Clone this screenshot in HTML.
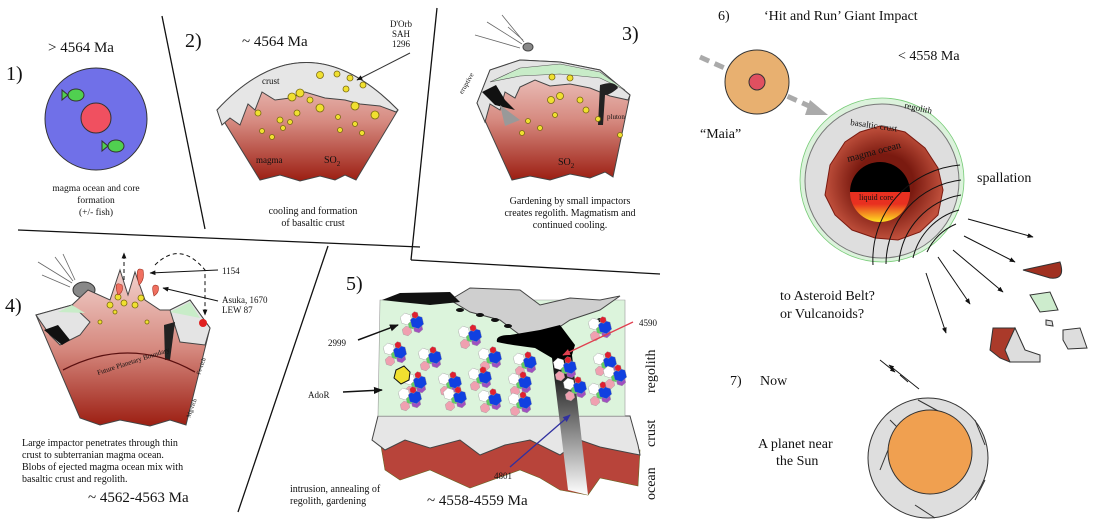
<!DOCTYPE html>
<html><head><meta charset="utf-8"><style>
html,body{margin:0;padding:0;background:#fff}
svg{display:block}
text{font-family:"Liberation Serif",serif;fill:#111}
</style></head><body>
<svg id="s" width="1096" height="531" viewBox="0 0 1096 531" xmlns="http://www.w3.org/2000/svg">
<defs>
<linearGradient id="mag" x1="0" y1="0" x2="0" y2="1"><stop offset="0" stop-color="#f2d2ce"/><stop offset="0.5" stop-color="#d68a80"/><stop offset="1" stop-color="#9c1e12"/></linearGradient>
<linearGradient id="dike" x1="0" y1="0" x2="0" y2="1"><stop offset="0.2" stop-color="#000"/><stop offset="1" stop-color="#fff"/></linearGradient>
<linearGradient id="core" x1="0" y1="0" x2="0" y2="1"><stop offset="0.4" stop-color="#e83020"/><stop offset="1" stop-color="#ffe020"/></linearGradient>
<radialGradient id="mo" cx="0.5" cy="0.5" r="0.5"><stop offset="0.5" stop-color="#7a1a10"/><stop offset="1" stop-color="#c0503c"/></radialGradient>
<marker id="ah" viewBox="0 0 10 10" refX="9" refY="5" markerWidth="6" markerHeight="6" orient="auto"><path d="M0,1 L10,5 L0,9z" fill="#111"/></marker>
<marker id="ahr" viewBox="0 0 10 10" refX="9" refY="5" markerWidth="6" markerHeight="6" orient="auto"><path d="M0,1 L10,5 L0,9z" fill="#e04050"/></marker>
<marker id="ahb" viewBox="0 0 10 10" refX="9" refY="5" markerWidth="6" markerHeight="6" orient="auto"><path d="M0,1 L10,5 L0,9z" fill="#3030a0"/></marker>
</defs>
<g stroke="#111" stroke-width="1.3" fill="none">
<line x1="162" y1="16" x2="205" y2="229"/>
<line x1="18" y1="230" x2="420" y2="247"/>
<line x1="437" y1="8" x2="411" y2="260"/>
<line x1="411" y1="260" x2="660" y2="274"/>
<line x1="328" y1="246" x2="238" y2="512"/>
</g>
<!-- Panel 1 -->
<text x="48" y="52" font-size="15">&gt; 4564 Ma</text>
<text x="6" y="80" font-size="20">1)</text>
<circle cx="96" cy="119" r="51" fill="#7070e8" stroke="#333"/>
<circle cx="96" cy="118" r="15" fill="#f05060" stroke="#333"/>
<ellipse cx="76" cy="95" rx="8" ry="6" fill="#50d050" stroke="#333"/><path d="M68,95 L62,90 L62,100z" fill="#50d050" stroke="#333"/>
<ellipse cx="116" cy="146" rx="8" ry="6" fill="#50d050" stroke="#333"/><path d="M108,146 L102,141 L102,151z" fill="#50d050" stroke="#333"/>
<text x="96" y="191" font-size="9.5" text-anchor="middle">magma ocean and core</text>
<text x="96" y="203" font-size="9.5" text-anchor="middle">formation</text>
<text x="96" y="215" font-size="9.5" text-anchor="middle">(+/- fish)</text>
<!-- Panel 2 -->
<text x="185" y="47" font-size="20">2)</text>
<text x="242" y="46" font-size="15">~ 4564 Ma</text>
<text x="401" y="27" font-size="9" text-anchor="middle">D'Orb</text>
<text x="401" y="37" font-size="9" text-anchor="middle">SAH</text>
<text x="401" y="47" font-size="9" text-anchor="middle">1296</text>
<path d="M217,110 Q305,15 398,110 L356,180 L345,175 L335,180 L320,176 L300,181 L280,175 L260,180 Z" fill="url(#mag)" stroke="#444"/>
<path d="M217,110 Q305,15 398,110 L396,112 L380,106 L360,104 L345,100 L325,98 L305,92 L290,98 L275,100 L262,92 L255,110 L248,104 L240,125 L230,118 L222,125 Z" fill="#e6e6e6" stroke="#444"/>
<text x="262" y="84" font-size="9">crust</text>
<text x="256" y="163" font-size="9" fill="#8a1a10">magma</text>
<text x="324" y="163" font-size="10" fill="#f0a020">SO<tspan font-size="7" dy="3">2</tspan></text>
<line x1="410" y1="53" x2="357" y2="80" stroke="#333" marker-end="url(#ah)"/>
<g fill="#f0e030" stroke="#7a6a10" stroke-width="0.8">
<circle cx="320" cy="75" r="3.5"/><circle cx="337" cy="74" r="3"/><circle cx="350" cy="78" r="3"/><circle cx="346" cy="89" r="3"/><circle cx="363" cy="85" r="3"/>
<circle cx="292" cy="97" r="4"/><circle cx="300" cy="93" r="4"/><circle cx="258" cy="113" r="3"/><circle cx="280" cy="120" r="3"/><circle cx="297" cy="113" r="3"/><circle cx="310" cy="100" r="3"/><circle cx="320" cy="108" r="4"/><circle cx="355" cy="106" r="4"/><circle cx="375" cy="115" r="4"/><circle cx="262" cy="131" r="2.5"/><circle cx="272" cy="137" r="2.5"/><circle cx="283" cy="128" r="2.5"/><circle cx="338" cy="117" r="2.5"/><circle cx="340" cy="130" r="2.5"/><circle cx="355" cy="124" r="2.5"/><circle cx="362" cy="133" r="2.5"/><circle cx="290" cy="122" r="2.5"/>
</g>
<text x="313" y="214" font-size="10" text-anchor="middle">cooling and formation</text>
<text x="313" y="226" font-size="10" text-anchor="middle">of basaltic crust</text>
<!-- Panel 3 -->
<text x="622" y="40" font-size="20">3)</text>
<g stroke="#666" stroke-width="0.8"><line x1="475" y1="35" x2="520" y2="48"/><line x1="487" y1="22" x2="522" y2="44"/><line x1="502" y1="15" x2="524" y2="42"/><line x1="508" y1="27" x2="523" y2="40"/></g>
<ellipse cx="528" cy="47" rx="5" ry="4" fill="#888" stroke="#444"/>
<path d="M477,103 L490,70 L520,60 L560,62 L600,70 L630,95 L613,177 L605,172 L590,178 L570,174 L550,180 L530,176 L512,180 Z" fill="url(#mag)" stroke="#444"/>
<path d="M477,103 L490,70 L520,60 L560,62 L600,70 L630,95 L628,100 L610,96 L590,88 L570,84 L550,86 L535,80 L520,87 L515,98 L505,92 L500,110 L490,104 L485,122 Z" fill="#e4e4e4" stroke="#444"/>
<path d="M490,82 L520,68 L560,64 L600,72 L625,90 L600,78 L560,74 L520,76 Z" fill="#c8ecc8" stroke="#555" stroke-width="0.6"/>
<path d="M482,92 L496,85 L505,100 L515,110 L495,105 Z" fill="#111"/>
<path d="M500,105 L520,120 L505,126 Z" fill="#999"/>
<path d="M600,85 Q615,80 618,88 Q610,95 605,95 L603,125 L598,125 Z" fill="#222"/>
<text x="607" y="119" font-size="7">pluton</text>
<text x="460" y="90" font-size="7" transform="rotate(-60 465 90)">eruptive</text>
<text x="558" y="165" font-size="10" fill="#f0a020">SO<tspan font-size="7" dy="3">2</tspan></text>
<g fill="#f0e030" stroke="#7a6a10" stroke-width="0.8"><circle cx="552" cy="77" r="3"/><circle cx="570" cy="78" r="3"/><circle cx="551" cy="100" r="3.5"/><circle cx="560" cy="96" r="3.5"/><circle cx="580" cy="100" r="3"/><circle cx="586" cy="110" r="3"/><circle cx="528" cy="121" r="2.5"/><circle cx="555" cy="115" r="2.5"/><circle cx="540" cy="128" r="2.5"/><circle cx="522" cy="133" r="2.5"/><circle cx="598" cy="119" r="2.5"/><circle cx="620" cy="135" r="2.5"/></g>
<text x="570" y="204" font-size="10" text-anchor="middle">Gardening by small impactors</text>
<text x="570" y="216" font-size="10" text-anchor="middle">creates regolith.  Magmatism and</text>
<text x="570" y="228" font-size="10" text-anchor="middle">continued cooling.</text>
<!-- Panel 4 -->
<text x="5" y="312" font-size="20">4)</text>
<g stroke="#666" stroke-width="0.8"><line x1="38" y1="262" x2="72" y2="283"/><line x1="42" y1="275" x2="70" y2="287"/><line x1="55" y1="257" x2="73" y2="281"/><line x1="63" y1="254" x2="75" y2="280"/></g>
<ellipse cx="84" cy="290" rx="11" ry="8" fill="#888" stroke="#333"/>
<path d="M36,315 L72,305 L88,290 L110,300 L120,270 L128,295 L135,272 L145,300 L160,310 L172,310 L190,300 L210,328 L186,425 L170,420 L150,426 L120,420 L100,425 L80,418 Z" fill="url(#mag)" stroke="#444"/>
<path d="M36,315 L72,305 L90,322 L80,335 L60,345 L50,335 Z" fill="#e4e4e4" stroke="#444"/>
<path d="M170,310 L190,300 L210,328 L205,345 L180,342 Z" fill="#e4e4e4" stroke="#444"/>
<path d="M58,312 L72,305 L85,313 Z" fill="#c8ecc8"/><path d="M170,312 L190,302 L200,318 Z" fill="#c8ecc8"/>
<path d="M44,330 L58,325 L70,340 L62,345 Z" fill="#111"/><path d="M164,325 L175,322 L170,360 L165,360 Z" fill="#222"/>
<circle cx="203" cy="323" r="4" fill="#e02020"/>
<path d="M63,370 Q130,335 195,372" fill="none" stroke="#5a1010" stroke-width="1.3"/>
<text x="98" y="375" font-size="7" fill="#f6dede" transform="rotate(-18 98 375)">Future Planetary Boundary</text>
<text x="200" y="375" font-size="6" transform="rotate(-70 200 375)">Fe-rich</text>
<text x="190" y="418" font-size="6" transform="rotate(-70 190 418)">Mg-rich</text>
<g fill="#f0e030" stroke="#7a6a10" stroke-width="0.8"><circle cx="118" cy="297" r="3"/><circle cx="124" cy="303" r="3"/><circle cx="110" cy="305" r="3"/><circle cx="135" cy="305" r="3"/><circle cx="141" cy="298" r="3"/><circle cx="115" cy="312" r="2"/><circle cx="147" cy="322" r="2"/><circle cx="100" cy="322" r="2"/></g>
<path d="M118,295 Q113,280 122,285 Q124,292 118,295z M139,285 Q134,265 143,270 Q145,280 139,285z M154,296 Q150,282 158,286 Q160,292 154,296z" fill="#f07060" stroke="#a03020" stroke-width="0.6"/>
<line x1="124" y1="280" x2="124" y2="253" stroke="#111" stroke-dasharray="4,3" marker-end="url(#ah)"/>
<path d="M155,265 Q180,240 205,270 L205,315" fill="none" stroke="#111" stroke-dasharray="4,3" marker-end="url(#ah)"/>
<line x1="218" y1="270" x2="150" y2="273" stroke="#111" marker-end="url(#ah)"/>
<line x1="218" y1="301" x2="163" y2="288" stroke="#111" marker-end="url(#ah)"/>
<text x="222" y="274" font-size="9">1154</text>
<text x="222" y="303" font-size="9">Asuka, 1670</text>
<text x="222" y="313" font-size="9">LEW 87</text>
<text x="22" y="446" font-size="10">Large impactor penetrates through thin</text>
<text x="22" y="458" font-size="10">crust to subterranian magma ocean.</text>
<text x="22" y="470" font-size="10">Blobs of ejected magma ocean mix with</text>
<text x="22" y="482" font-size="10">basaltic crust and regolith.</text>
<text x="88" y="502" font-size="15">~ 4562-4563 Ma</text>
<!-- Panel 5 -->
<text x="346" y="290" font-size="20">5)</text>
<path d="M380,440 L600,440 L640,450 L638,486 L600,478 L588,495 L560,490 L540,478 L520,470 L470,488 L430,470 L400,480 L385,470 Z" fill="#b8443a" stroke="#662" stroke-width="0.6"/>
<path d="M378,416 L630,416 L638,445 L640,455 L600,447 L580,440 L560,455 L530,440 L505,445 L480,455 L460,440 L430,448 L405,440 L385,450 L372,440 Z" fill="#e6e6e6" stroke="#444"/>
<path d="M380,300 L625,300 L625,416 L378,416 Z" fill="#dcf4dc" stroke="#999" stroke-width="0.6"/>
<path d="M450,300 L470,288 L520,290 L540,305 L570,298 L600,300 L620,296 L600,310 L570,320 L540,340 L520,335 L500,320 L470,312 Z" fill="#cfcfcf" stroke="#444"/>
<path d="M382,300 L400,293 L450,292 L460,302 L430,305 L400,302 Z" fill="#111"/>
<g fill="#111"><ellipse cx="460" cy="310" rx="4" ry="2"/><ellipse cx="480" cy="315" rx="4" ry="2"/><ellipse cx="495" cy="320" rx="4" ry="2"/><ellipse cx="508" cy="326" rx="4" ry="2"/><ellipse cx="600" cy="320" rx="3" ry="2"/></g>
<path d="M540,330 L560,325 L575,345 L572,355 L588,495 L568,490 L552,358 L535,348 Q510,345 497,342 Q495,335 510,335 Z" fill="url(#dike)"/>
<g id="cl"></g>
<polygon points="453,370 461,366 467,372 466,380 458,384 451,378" fill="#f0e030" stroke="#111" transform="translate(-57,0)"/>
<line x1="358" y1="340" x2="398" y2="325" stroke="#111" stroke-width="1.5" marker-end="url(#ah)"/>
<line x1="343" y1="392" x2="382" y2="390" stroke="#111" stroke-width="1.5" marker-end="url(#ah)"/>
<line x1="633" y1="322" x2="563" y2="355" stroke="#e04050" stroke-width="1.3" marker-end="url(#ahr)"/>
<line x1="510" y1="467" x2="570" y2="415" stroke="#3030a0" stroke-width="1.3" marker-end="url(#ahb)"/>
<text x="328" y="346" font-size="9">2999</text>
<text x="308" y="398" font-size="9">AdoR</text>
<text x="639" y="326" font-size="9">4590</text>
<text x="494" y="479" font-size="9">4801</text>
<text x="655" y="393" font-size="14" transform="rotate(-90 655 393)">regolith</text>
<text x="655" y="447" font-size="14" transform="rotate(-90 655 447)">crust</text>
<text x="655" y="500" font-size="14" transform="rotate(-90 655 500)">ocean</text>
<text x="290" y="492" font-size="10">intrusion, annealing of</text>
<text x="290" y="504" font-size="10">regolith, gardening</text>
<text x="427" y="505" font-size="15">~ 4558-4559 Ma</text>
<!-- Panel 6 -->
<text x="718" y="20" font-size="14">6)</text>
<text x="764" y="20" font-size="14">‘Hit and Run’ Giant Impact</text>
<text x="898" y="60" font-size="14">&lt; 4558 Ma</text>
<line x1="700" y1="57" x2="818" y2="110" stroke="#aaa" stroke-width="5" stroke-dasharray="10,6"/>
<path d="M810,100 L828,115 L805,115z" fill="#aaa"/>
<circle cx="757" cy="82" r="32" fill="#e8b070" stroke="#333"/>
<circle cx="757" cy="82" r="8" fill="#e05060" stroke="#333"/>
<text x="700" y="138" font-size="14">“Maia”</text>
<circle cx="882" cy="180" r="82" fill="#dcf2dc" stroke="#7c7" stroke-width="0.8"/>
<circle cx="882" cy="181" r="77" fill="#dedede" stroke="#777"/>
<path d="M880,126 L905,132 L925,148 L938,168 L943,190 L938,215 L920,232 L898,240 L875,238 L852,230 L835,215 L825,195 L830,165 L845,142 L860,132 Z" fill="url(#mo)" stroke="#7a1a10"/>
<path d="M850,192 A30,30 0 0 1 910,192 Z" fill="#000"/>
<path d="M850,192 A30,30 0 0 0 910,192 Z" fill="url(#core)"/>
<text x="859" y="200" font-size="8">liquid core</text>
<text x="848" y="162" font-size="10" transform="rotate(-15 848 162)">magma ocean</text>
<text x="850" y="125" font-size="9" transform="rotate(8 850 125)">basaltic crust</text>
<text x="904" y="108" font-size="9" transform="rotate(12 904 108)">regolith</text>
<g fill="none" stroke="#111" stroke-width="1"><path d="M873,265 A95,95 0 0 1 960,165"/><path d="M886,264 A85,85 0 0 1 961,180"/><path d="M899,262 A75,75 0 0 1 961,195"/><path d="M913,258 A65,65 0 0 1 959,210"/><path d="M927,252 A55,55 0 0 1 956,224"/></g>
<text x="977" y="182" font-size="14">spallation</text>
<g stroke="#111" stroke-width="1" marker-end="url(#ah)"><line x1="968" y1="219" x2="1033" y2="237"/><line x1="964" y1="236" x2="1015" y2="262"/><line x1="953" y1="250" x2="1003" y2="292"/><line x1="938" y1="257" x2="970" y2="304"/><line x1="926" y1="273" x2="946" y2="333"/></g>
<path d="M1023,270 L1060,262 Q1066,280 1050,278 Z" fill="#a03020" stroke="#333"/>
<path d="M1030,295 L1050,292 L1058,310 L1040,312 Z" fill="#cdeccd" stroke="#333"/>
<path d="M1046,320 L1052,321 L1053,326 L1046,325 Z" fill="#ddd" stroke="#333"/>
<path d="M1063,330 L1080,328 L1087,348 L1068,349 L1063,340 Z" fill="#ddd" stroke="#333"/>
<path d="M993,328 L1015,328 L1025,350 L1010,362 L1000,358 L990,350 Z" fill="#aa3a2a" stroke="#333"/>
<path d="M1015,328 L1025,350 L1040,355 L1040,362 L1010,362 L1005,350 Z" fill="#ddd" stroke="#333"/>
<text x="780" y="300" font-size="14">to Asteroid Belt?</text>
<text x="780" y="318" font-size="14">or Vulcanoids?</text>
<!-- Panel 7 -->
<text x="730" y="385" font-size="14">7)</text>
<text x="760" y="385" font-size="14">Now</text>
<g stroke="#111" stroke-width="0.9"><line x1="880" y1="360" x2="895" y2="372" marker-end="url(#ah)"/><line x1="919" y1="389" x2="889" y2="365" marker-end="url(#ah)"/><line x1="900" y1="375" x2="908" y2="382"/></g>
<circle cx="928" cy="458" r="60" fill="#dedede" stroke="#333"/>
<g stroke="#333" fill="none"><path d="M918,400 L940,412"/><path d="M975,420 L985,445"/><path d="M985,480 L975,500"/><path d="M935,518 L915,505"/><path d="M880,470 L888,450"/><path d="M890,420 L900,430"/></g>
<circle cx="930" cy="452" r="42" fill="#f0a050" stroke="#333"/>
<text x="758" y="448" font-size="14">A planet near</text>
<text x="776" y="465" font-size="14">the Sun</text>
</svg>
<script>
(function(){var g=document.getElementById('cl');var ns='http://www.w3.org/2000/svg';
var pts=[[412,325],[470,338],[395,355],[430,360],[490,360],[525,365],[600,330],[605,365],[415,385],[450,385],[480,380],[520,385],[565,370],[575,390],[410,400],[455,400],[490,402],[520,405],[600,395],[615,378]];
function hex(cx,cy,r,f){var p=[];for(var i=0;i<6;i++){var a=Math.PI/3*i+0.3;p.push((cx+r*Math.cos(a)).toFixed(1)+','+(cy+r*Math.sin(a)).toFixed(1));}var e=document.createElementNS(ns,'polygon');e.setAttribute('points',p.join(' '));e.setAttribute('fill',f);e.setAttribute('stroke','#999');e.setAttribute('stroke-width','0.4');g.appendChild(e);}
pts.forEach(function(q){var x=q[0],y=q[1];hex(x-6,y-6,6,'#fff');hex(x-5,y+6,5,'#f0a0b0');hex(x+6,y+3,5,'#a050c0');hex(x,y,4,'#60d060');hex(x+5,y-3,7,'#1040e0');hex(x+3,y-10,3.5,'#e02030');});})();
</script>
</body></html>
